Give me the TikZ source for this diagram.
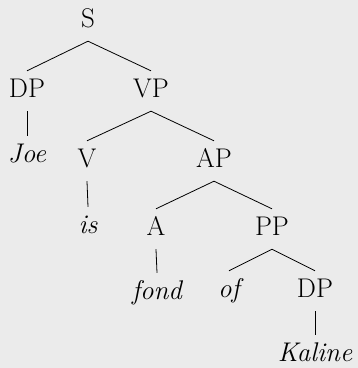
\documentclass[tikz,border=0pt]{standalone}
\definecolor{bgc}{HTML}{EBEBEB}

\begin{document}
\begin{tikzpicture}[
  x=1pt, y=-1pt,
  cat/.style={anchor=base, inner xsep=0pt, inner ysep=6pt,
              text height=20pt, text depth=8pt,
              font=\fontsize{27}{30}\selectfont},
  wd/.style={cat, font=\fontsize{27}{30}\selectfont\itshape},
  br/.style={line width=0.8pt}
]
  % Background
  \fill[bgc] (0,0) rectangle (358,368);
  \useasboundingbox (0,0) rectangle (358,368);

  % Root
  \node[cat] (s) at (88,27) {S};

  % Subject
  \node[cat] (dp1) at (27,97) {DP};
  \node[wd] (joe) at (27,162) {Joe};
  \draw[br] (s.south) -- (dp1.north);
  \draw[br] (dp1.south) -- (joe.north);

  % Predicate
  \node[cat] (vp) at (151,97) {VP};
  \draw[br] (s.south) -- (vp.north);

  \node[cat] (v) at (87,167) {V};
  \node[wd] (is) at (88,233) {is};
  \draw[br] (vp.south) -- (v.north);
  \draw[br] (v.south) -- (is.north);

  \node[cat] (ap) at (214,167) {AP};
  \draw[br] (vp.south) -- (ap.north);

  \node[cat] (a) at (156,235) {A};
  \node[wd] (fond) at (157,299) {fond};
  \draw[br] (ap.south) -- (a.north);
  \draw[br] (a.south) -- (fond.north);

  \node[cat] (pp) at (272,235) {PP};
  \draw[br] (ap.south) -- (pp.north);

  \node[wd] (of) at (229,297) {of};
  \node[cat] (dp2) at (315,297) {DP};
  \node[wd] (kaline) at (315,361) {Kaline};
  \draw[br] (pp.south) -- (of.north);
  \draw[br] (pp.south) -- (dp2.north);
  \draw[br] (dp2.south) -- (kaline.north);
\end{tikzpicture}
\end{document}
